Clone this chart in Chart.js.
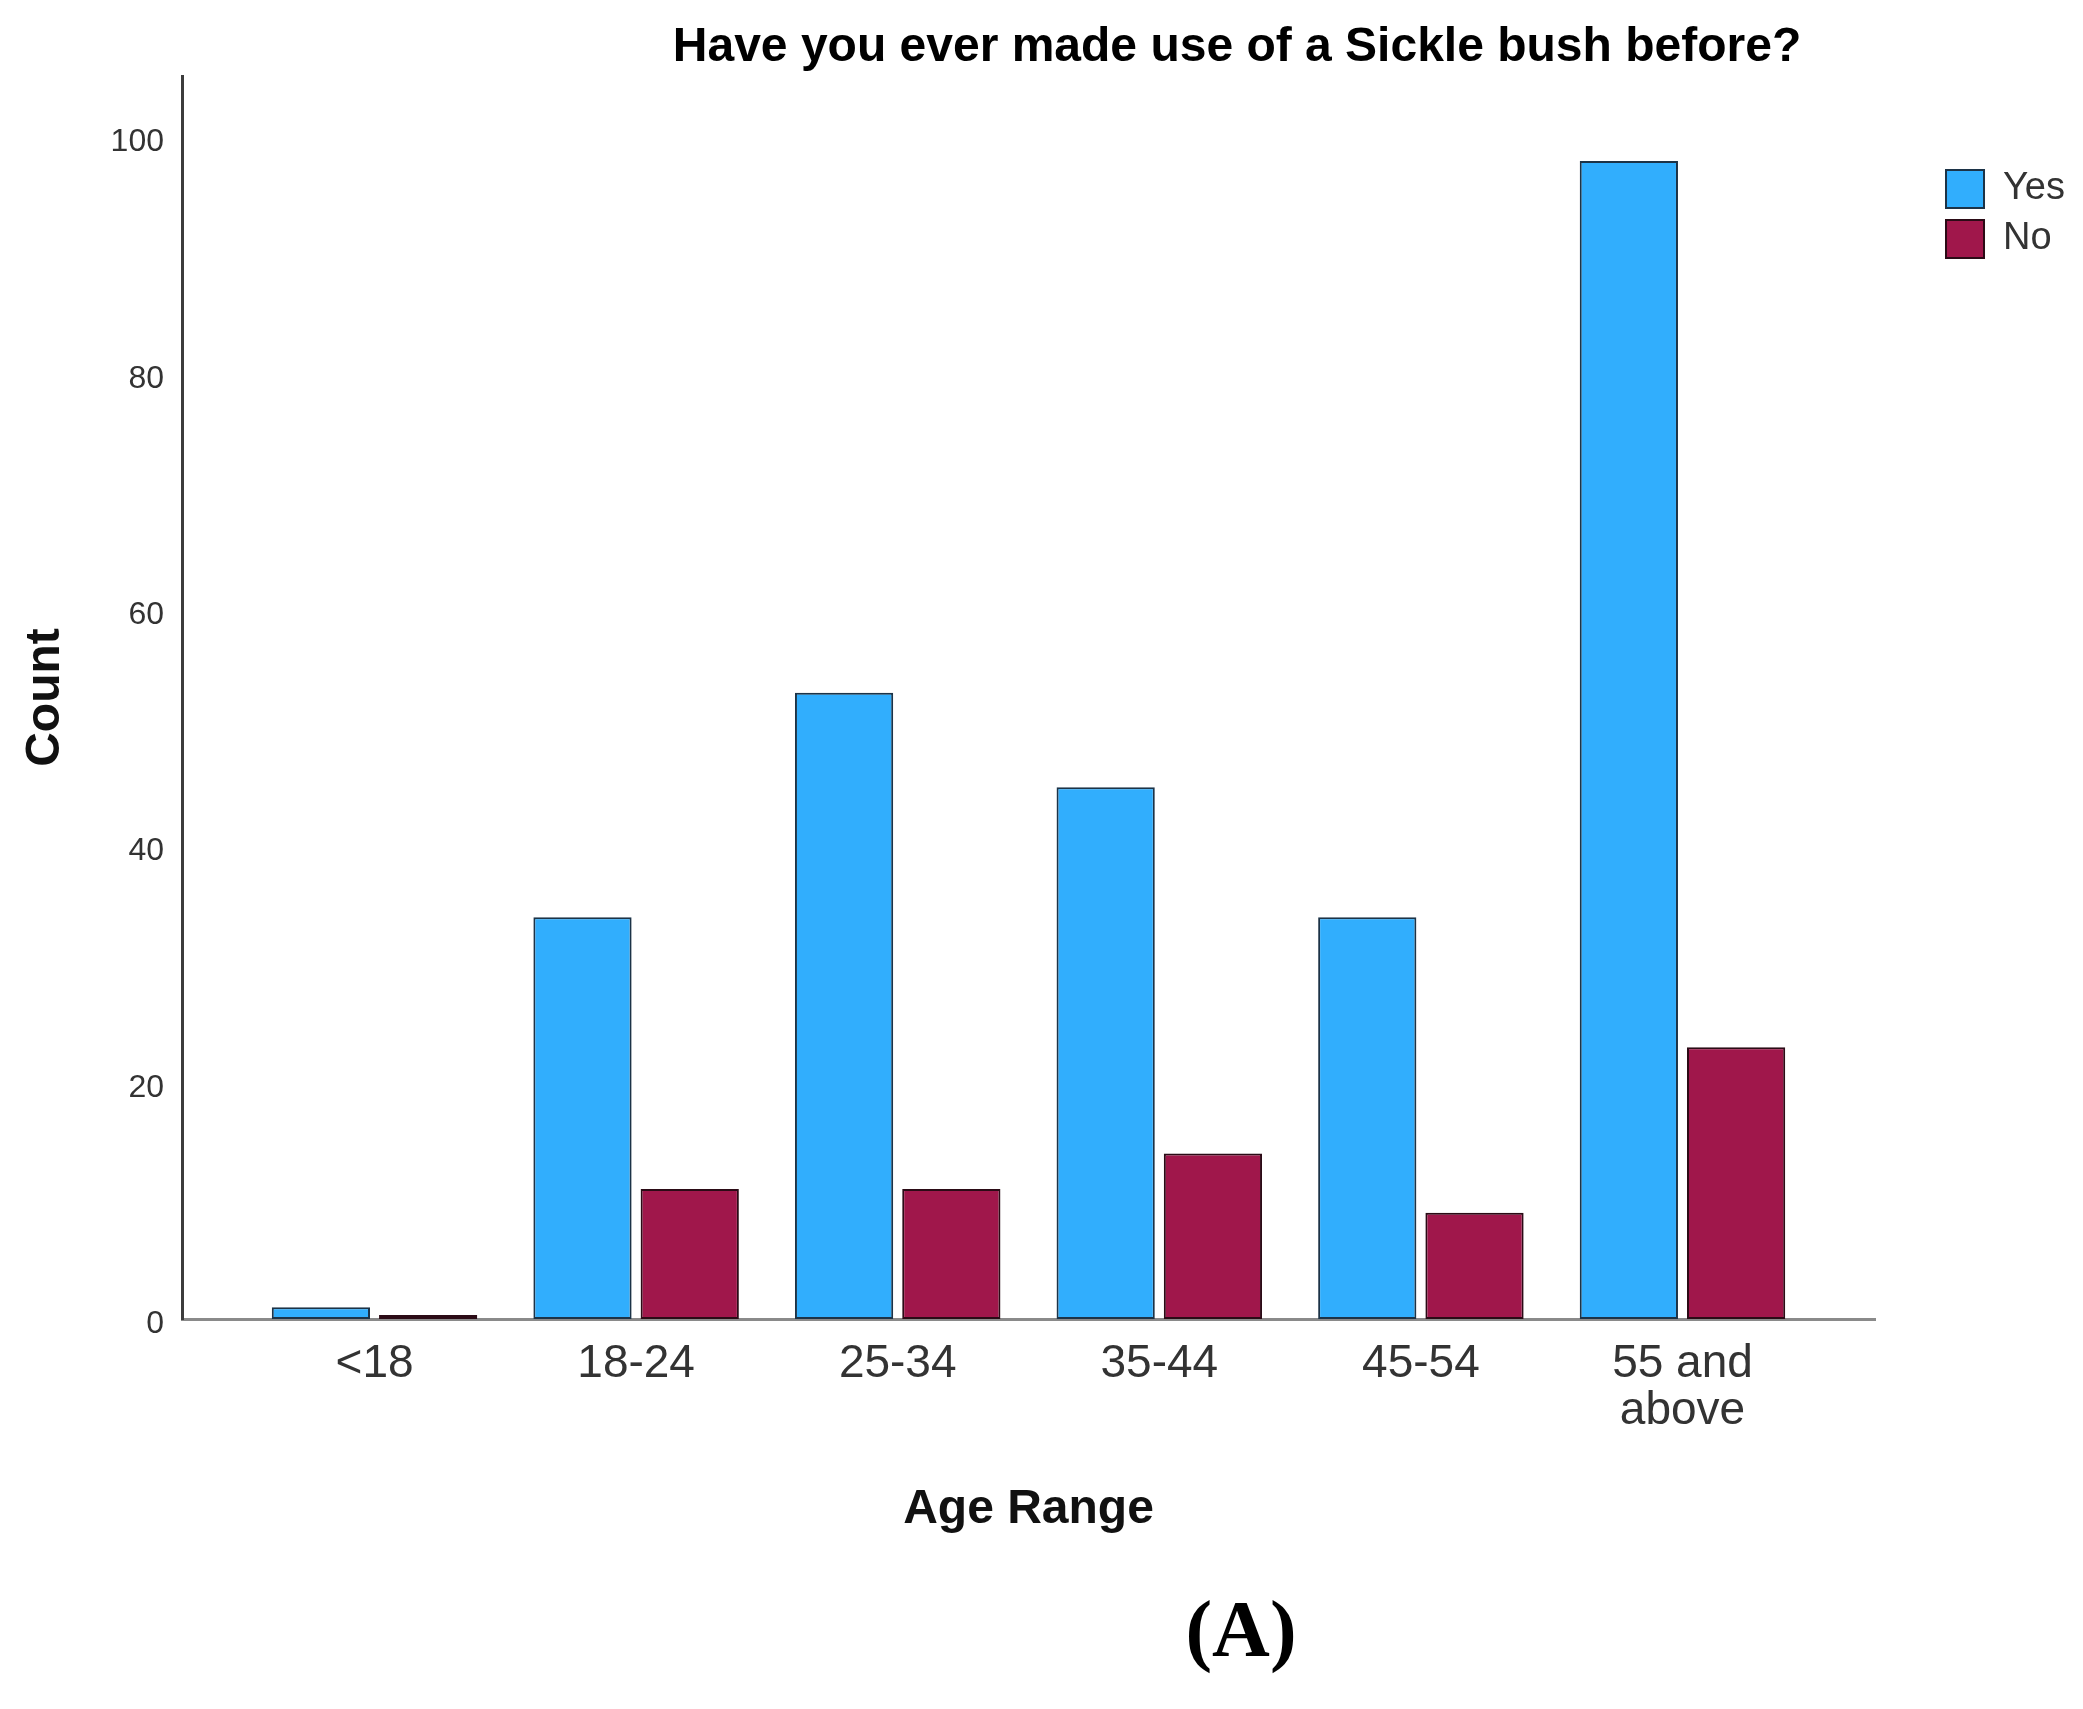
<!DOCTYPE html>
<html>
<head>
<meta charset="utf-8">
<script src="https://cdn.jsdelivr.net/npm/chart.js@4.4.1/dist/chart.umd.min.js"></script>
<style>
  html, body { margin: 0; padding: 0; background: #fff; }
  canvas { display: block; }
</style>
</head>
<body>
<canvas id="chart" width="2083" height="1709"></canvas>
<script>
const ageGroups = ['<18', '18-24', '25-34', '35-44', '45-54', '55 and above'];
const tickLabels = ['<18', '18-24', '25-34', '35-44', '45-54', ['55 and', 'above']];
const yesCounts = [1, 34, 53, 45, 34, 98];
const noCounts = [0, 11, 11, 14, 9, 23];
const yTicks = [0, 20, 40, 60, 80, 100];
const chartTitle = 'Have you ever made use of a Sickle bush before?';
const panelLabel = '(A)';

Chart.defaults.font.family = '"Liberation Sans", Arial, sans-serif';

// title and panel letter sit off-centre in the original, so draw them here
const captions = {
  id: 'captions',
  afterDraw(chart) {
    const ctx = chart.ctx;
    ctx.save();
    ctx.fillStyle = '#000';
    ctx.textAlign = 'center';
    ctx.textBaseline = 'middle';
    ctx.font = 'bold 48px "Liberation Sans", Arial, sans-serif';
    ctx.fillText(chartTitle, 1237, 48);
    ctx.font = 'bold 80px "Liberation Serif", "Times New Roman", serif';
    ctx.fillText(panelLabel, 1241, 1635);
    ctx.restore();
  }
};

const toPoints = (vals) => vals.map((y, i) => ({ x: i, y: y }));

new Chart(document.getElementById('chart'), {
  type: 'bar',
  data: {
    datasets: [
      {
        label: 'Yes',
        data: toPoints(yesCounts),
        backgroundColor: '#31AEFD',
        borderColor: '#1c3347',
        borderWidth: 2,
        borderSkipped: false,
        categoryPercentage: 0.82,
        barPercentage: 0.916
      },
      {
        label: 'No',
        data: toPoints(noCounts),
        backgroundColor: '#A0174B',
        borderColor: '#2b0b16',
        borderWidth: 2,
        borderSkipped: false,
        minBarLength: 4,
        categoryPercentage: 0.82,
        barPercentage: 0.916
      }
    ]
  },
  options: {
    responsive: false,
    animation: false,
    layout: { padding: { top: 76, right: 8, bottom: 0, left: 0 } },
    scales: {
      x: {
        type: 'linear',
        offset: false,
        min: -0.736,
        max: 5.736,
        grid: { display: false, drawTicks: false, offset: false },
        border: { color: '#8a8a8a', width: 3 },
        afterBuildTicks: (s) => { s.ticks = ageGroups.map((_, i) => ({ value: i })); },
        ticks: {
          callback: (v) => tickLabels[v],
          autoSkip: false,
          maxRotation: 0,
          font: { size: 46, lineHeight: 1.04 },
          color: '#333',
          padding: 21
        },
        title: {
          display: true,
          text: 'Age Range',
          color: '#111',
          font: { size: 48, weight: 'bold' },
          padding: { top: 0, bottom: 170 }
        },
        afterFit: (s) => { s.height = 390; }
      },
      y: {
        min: 0,
        max: 105.2,
        grid: { display: false, drawTicks: false },
        border: { color: '#3c3c3c', width: 3 },
        afterBuildTicks: (s) => { s.ticks = yTicks.map((v) => ({ value: v })); },
        ticks: { font: { size: 32 }, color: '#333', padding: 18, labelOffset: 5 },
        title: {
          display: true,
          text: 'Count',
          color: '#111',
          font: { size: 48, weight: 'bold' },
          padding: { top: 17, bottom: 0 }
        },
        afterFit: (s) => { s.width = 182; }
      },
      // empty spacer so the legend sits away from the plot
      gap: {
        type: 'linear',
        position: 'right',
        grid: { display: false },
        border: { display: false },
        ticks: { display: false },
        afterFit: (s) => { s.width = 59; }
      }
    },
    plugins: {
      tooltip: { enabled: false },
      legend: {
        position: 'right',
        align: 'start',
        title: { display: true, text: '', font: { size: 10, lineHeight: 1.2 }, padding: { top: 70, bottom: 0 } },
        labels: { boxWidth: 38, boxHeight: 38, padding: 12, color: '#333', font: { size: 38 } }
      }
    }
  },
  plugins: [captions]
});
</script>
</body>
</html>
